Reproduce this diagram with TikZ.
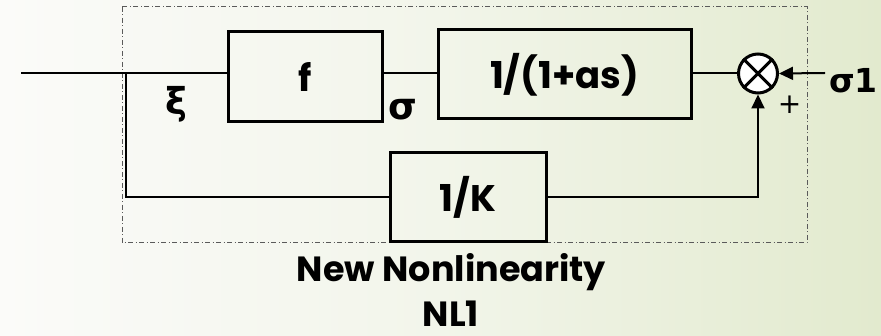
\documentclass[tikz,border=0pt]{standalone}
\usepackage{fontspec}
\setmainfont{Poppins}
\newfontfamily\greekfont{DejaVu Sans}
\usetikzlibrary{arrows.meta}

\definecolor{bgleft}{RGB}{251,251,249}
\definecolor{bgmid}{RGB}{242,245,234}
\definecolor{bgright}{RGB}{226,234,206}
\definecolor{framegray}{RGB}{90,90,90}

\tikzset{
  blockbox/.style={draw=black, line width=3pt, inner sep=0pt,
    font=\fontsize{37}{40}\selectfont\bfseries},
  wire/.style={draw=black, line width=2pt},
  arrowwire/.style={wire, -{Triangle[length=14pt,width=13pt]}},
  greeklabel/.style={inner sep=0pt, font=\fontsize{37}{40}\selectfont\greekfont\bfseries},
  captiontext/.style={inner sep=0pt, anchor=base,
    font=\fontsize{35}{40}\selectfont\bfseries},
  sumjunction/.style={circle, draw=black, fill=white, line width=3pt,
    minimum size=39pt, inner sep=0pt},
  groupframe/.style={draw=framegray, line width=1pt,
    dash pattern=on 5pt off 2.5pt on 1pt off 2.5pt},
}

\begin{document}
\begin{tikzpicture}[x=1pt, y=-1pt]
  % background
  \shade[left color=bgleft, right color=bgright, middle color=bgmid]
    (0,0) rectangle (881,336);
  \useasboundingbox (0,0) rectangle (881,336);

  % dash-dotted frame around the nonlinearity
  \draw[groupframe] (122,7) rectangle (807,243);

  % blocks
  \node[blockbox, minimum width=154pt, minimum height=90pt] (f) at (305,77) {f};
  \node[blockbox, minimum width=253pt, minimum height=89pt] (g) at (564.5,74.5) {1/(1+as)};
  \node[blockbox, minimum width=156pt, minimum height=89pt] (k) at (468,197.5) {1/K};
  \node[sumjunction] (sum) at (758,73.5) {};
  \draw[line width=3pt] (sum.north west) -- (sum.south east)
                        (sum.north east) -- (sum.south west);

  % signal points
  \coordinate (in) at (21,73);
  \coordinate (fb) at (126,73);
  \coordinate (s1) at (825,73);

  % connectors
  \draw[wire] (in) -- (in -| f.west);
  \draw[wire] (fb) |- (k.west);
  \draw[wire] (f.east |- in) -- (g.west |- in);
  \draw[wire] (g.east |- in) -- (sum.west |- in);
  \draw[arrowwire] (k.east) -| (sum.south);
  \draw[arrowwire] (s1) -- (sum.east);

  % signal labels
  \node[greeklabel] (xi) at (176,104) {ξ};
  \node[greeklabel] (sigma) at (403,110) {σ};
  \node[greeklabel, font=\fontsize{33}{36}\selectfont\greekfont\bfseries,
        anchor=base west] (sigmaone) at (829,93) {σ1};
  \node[inner sep=0pt, font=\fontsize{28}{30}\selectfont\greekfont] (plus) at (789.5,105) {+};

  % caption
  \node[captiontext] (cap1) at (451.5,282) {New Nonlinearity};
  \node[captiontext] (cap2) at (451,327) {NL1};
\end{tikzpicture}
\end{document}
